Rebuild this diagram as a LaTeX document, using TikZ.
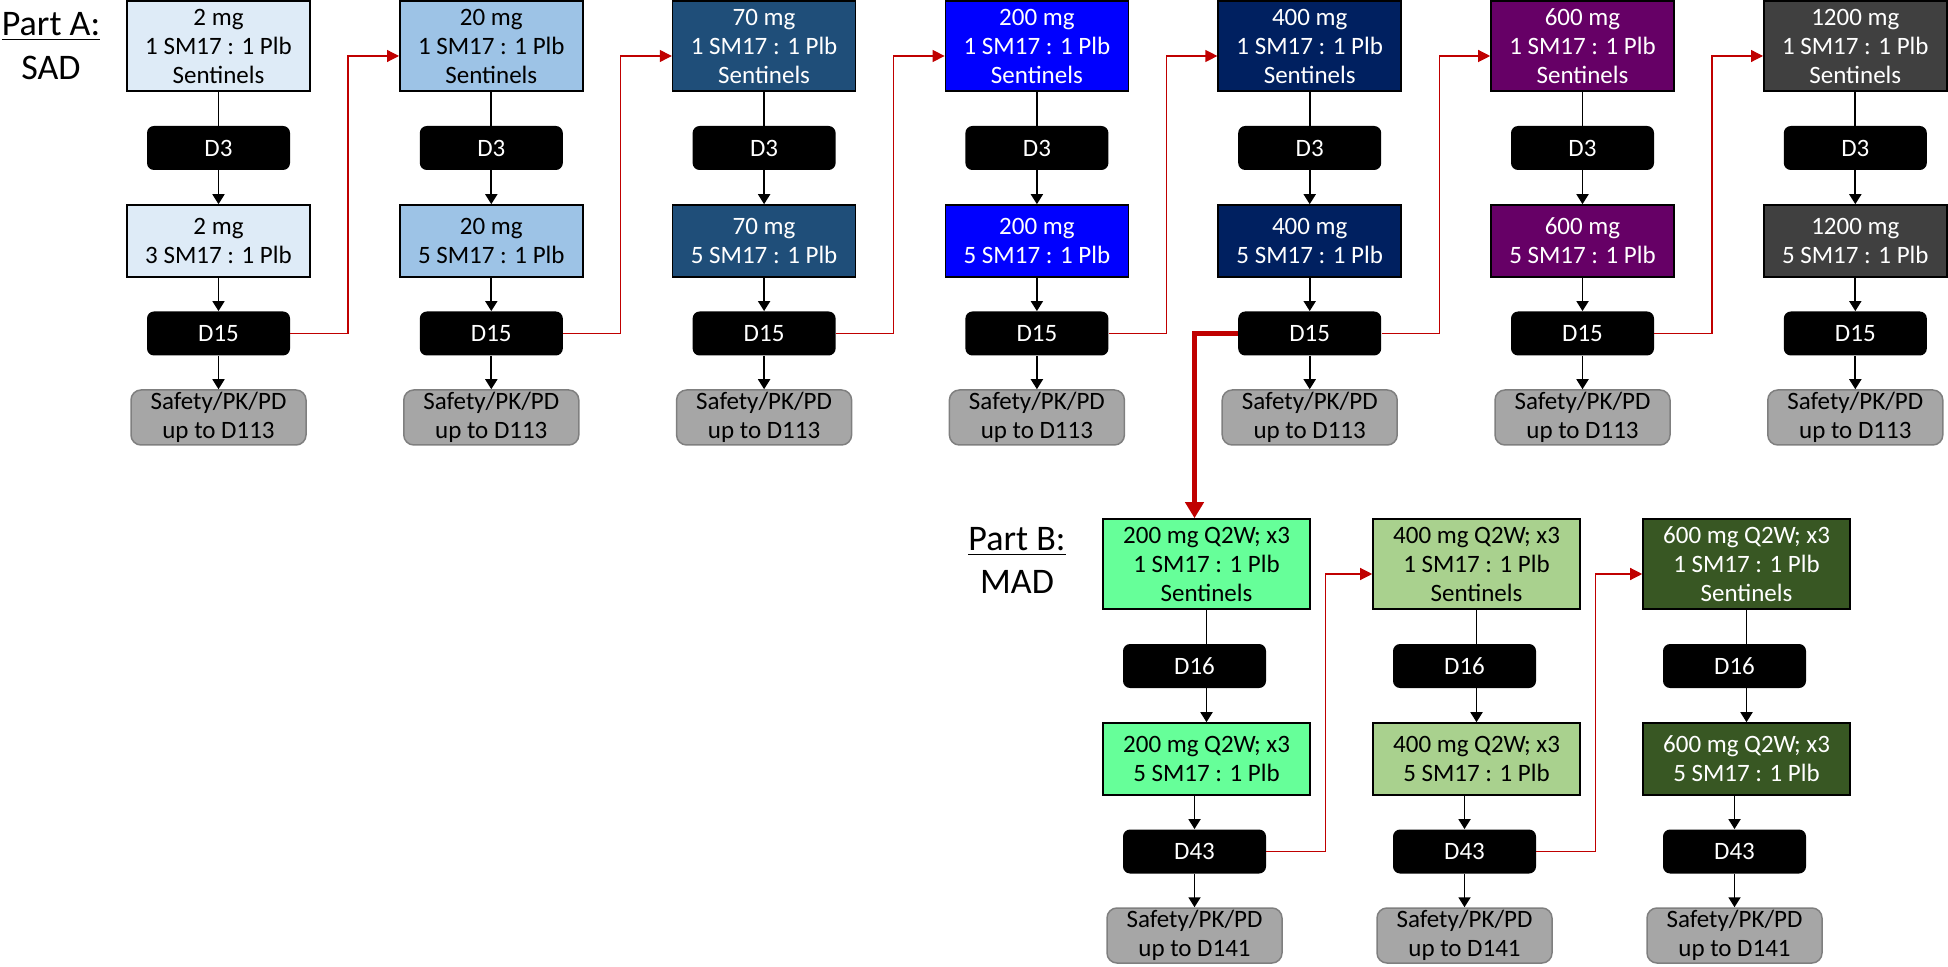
\documentclass[tikz,border=0pt]{standalone}
\usepackage{fontspec}
\setmainfont{Carlito}
\usepackage{tikz}
\usetikzlibrary{arrows.meta,calc,positioning}
\definecolor{doseA}{HTML}{DEEBF7}
\definecolor{doseB}{HTML}{9DC3E6}
\definecolor{doseC}{HTML}{1F4E79}
\definecolor{doseD}{HTML}{0000FF}
\definecolor{doseE}{HTML}{002060}
\definecolor{doseF}{HTML}{660066}
\definecolor{doseG}{HTML}{404040}
\definecolor{madA}{HTML}{66FF99}
\definecolor{madB}{HTML}{A9D18E}
\definecolor{madC}{HTML}{385723}
\definecolor{safegray}{HTML}{A6A6A6}
\definecolor{safeline}{HTML}{7F7F7F}
\definecolor{colornext}{HTML}{C00000}
\tikzset{
  dosebox/.style={draw=black, line width=0.8pt, inner sep=0pt, align=center, minimum width=91.5pt},
  madbox/.style={dosebox, minimum width=103.5pt},
  daybox/.style={fill=black, text=white, rounded corners=3.5pt, inner sep=0pt, minimum width=71.5pt, minimum height=22pt},
  safebox/.style={fill=safegray, draw=safeline, line width=0.75pt, rounded corners=5pt, inner sep=0pt, align=center, minimum width=87.5pt, minimum height=27.5pt},
  partlabel/.style={anchor=base, font=\fontsize{18}{22}\selectfont},
  edgeplain/.style={black, line width=0.9pt},
  edgedown/.style={black, line width=0.9pt, -{Triangle[width=6pt,length=5pt]}},
  edgenext/.style={colornext, line width=0.6pt, -{Triangle[width=6pt,length=6pt]}},
  edgemad/.style={colornext, line width=2.5pt, -{Triangle[width=9pt,length=8pt]}}
}

\begin{document}
\begin{tikzpicture}[x=0.5pt, y=-0.5pt, font=\fontsize{12.5}{14.5}\selectfont]
\useasboundingbox (0,0) rectangle (1948,967);

% Part A: single ascending doses
\node[partlabel] (parta) at (51,36) {\underline{Part A:}};
\node[partlabel] (sad) at (51,80) {SAD};

\foreach \i/\dose/\ratio/\fc/\tc in {0/2/3/doseA/black, 1/20/5/doseB/black, 2/70/5/doseC/white,
    3/200/5/doseD/white, 4/400/5/doseE/white, 5/600/5/doseF/white, 6/1200/5/doseG/white} {
  \node[dosebox, fill=\fc, text=\tc, minimum height=45pt] (top\i) at (218.5+272.8*\i,46) {\dose{} mg\\1 SM17 : 1 Plb\\Sentinels};
  \node[daybox] (d3-\i) at (218.5+272.8*\i,148) {D3};
  \node[dosebox, fill=\fc, text=\tc, minimum height=36pt] (bot\i) at (218.5+272.8*\i,241) {\dose{} mg\\\ratio{} SM17 : 1 Plb};
  \node[daybox] (d15-\i) at (218.5+272.8*\i,333.5) {D15};
  \node[safebox] (safe\i) at (218.5+272.8*\i,417.5) {Safety/PK/PD\\up to D113};
  \draw[edgeplain] (top\i) -- (d3-\i);
  \draw[edgedown] (d3-\i) -- (bot\i);
  \draw[edgedown] (bot\i) -- (d15-\i);
  \draw[edgedown] (d15-\i) -- (safe\i);
}
\foreach \i/\j in {0/1,1/2,2/3,3/4,4/5,5/6}
  \draw[edgenext] (d15-\i.east) -- ++(57.5,0) |- ([yshift=-5pt]top\j.west);

% Part B: multiple ascending doses
\node[partlabel] (partb) at (1017,551) {\underline{Part B:}};
\node[partlabel] (mad) at (1017,593) {MAD};

\foreach \i/\dose/\fc/\tc in {0/200/madA/black, 1/400/madB/black, 2/600/madC/white} {
  \node[madbox, fill=\fc, text=\tc, minimum height=45pt] (mtop\i) at (1206.5+270*\i,564) {\dose{} mg Q2W; x3\\1 SM17 : 1 Plb\\Sentinels};
  \node[daybox] (d16-\i) at (1194.5+270*\i,666) {D16};
  \node[madbox, fill=\fc, text=\tc, minimum height=36pt] (mbot\i) at (1206.5+270*\i,759) {\dose{} mg Q2W; x3\\5 SM17 : 1 Plb};
  \node[daybox] (d43-\i) at (1194.5+270*\i,851.5) {D43};
  \node[safebox] (msafe\i) at (1194.5+270*\i,935.5) {Safety/PK/PD\\up to D141};
  \draw[edgeplain] (mtop\i.south) -- (mtop\i.south |- d16-\i.north);
  \draw[edgedown] (mtop\i.south |- d16-\i.south) -- (mbot\i.north);
  \draw[edgedown] (d43-\i.north |- mbot\i.south) -- (d43-\i);
  \draw[edgedown] (d43-\i) -- (msafe\i);
}
\foreach \i/\j in {0/1,1/2}
  \draw[edgenext] (d43-\i.east) -- ++(59,0) |- ([yshift=-5pt]mtop\j.west);

\draw[edgemad] (d15-4.west) -| ([xshift=-6pt]mtop0.north);
\end{tikzpicture}
\end{document}
